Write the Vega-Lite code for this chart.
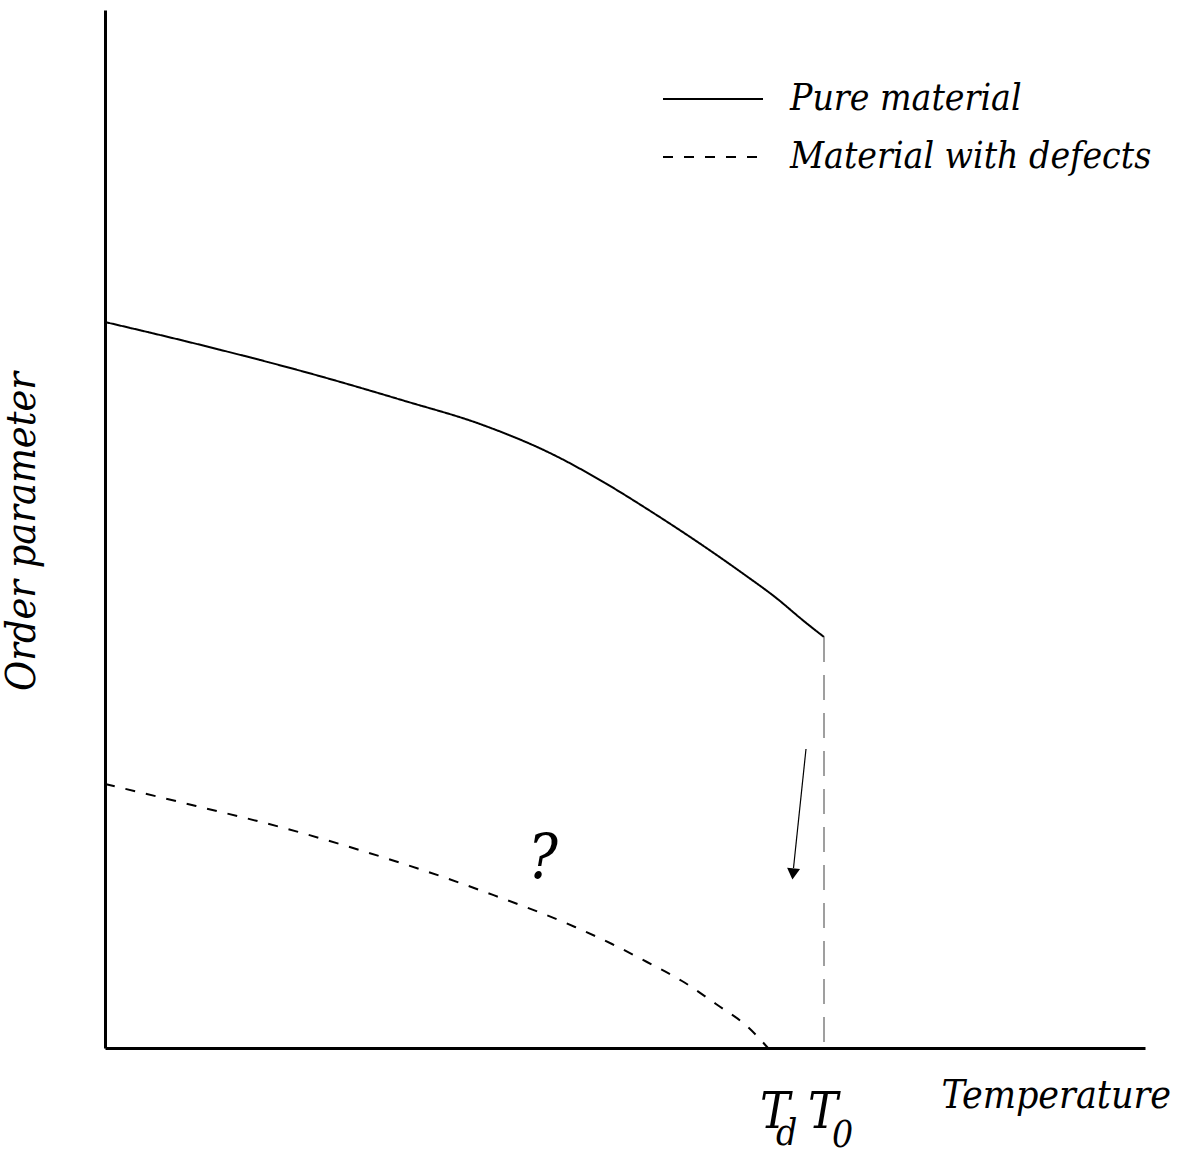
{
  "$schema": "https://vega.github.io/schema/vega-lite/v6.json",
  "width": 1040,
  "height": 1038,
  "autosize": {"type": "none"},
  "padding": {"left": 105, "top": 10, "right": 36, "bottom": 105},
  "background": "white",
  "config": {
    "view": {"stroke": null},
    "font": "DejaVu Serif Condensed"
  },
  "datasets": {
    "curves": [
      {"series": "Pure material", "t": 0, "op": 72.6},
      {"series": "Pure material", "t": 10, "op": 70.2},
      {"series": "Pure material", "t": 20, "op": 67.6},
      {"series": "Pure material", "t": 30, "op": 64.7},
      {"series": "Pure material", "t": 37.5, "op": 62.4},
      {"series": "Pure material", "t": 45, "op": 59.25},
      {"series": "Pure material", "t": 50, "op": 56.5},
      {"series": "Pure material", "t": 55, "op": 53.4},
      {"series": "Pure material", "t": 60, "op": 50.1},
      {"series": "Pure material", "t": 64, "op": 47.3},
      {"series": "Pure material", "t": 67, "op": 45.1},
      {"series": "Pure material", "t": 70, "op": 42.6},
      {"series": "Pure material", "t": 71.9, "op": 41.1},
      {"series": "Material with defects", "t": 0, "op": 26.4},
      {"series": "Material with defects", "t": 9.1, "op": 24.2},
      {"series": "Material with defects", "t": 17.9, "op": 22.0},
      {"series": "Material with defects", "t": 26.1, "op": 19.6},
      {"series": "Material with defects", "t": 34.1, "op": 17.0},
      {"series": "Material with defects", "t": 38.0, "op": 15.6},
      {"series": "Material with defects", "t": 47.0, "op": 12.1},
      {"series": "Material with defects", "t": 50.7, "op": 10.4},
      {"series": "Material with defects", "t": 54.2, "op": 8.6},
      {"series": "Material with defects", "t": 57.7, "op": 6.7},
      {"series": "Material with defects", "t": 61.1, "op": 4.4},
      {"series": "Material with defects", "t": 64.4, "op": 2.0},
      {"series": "Material with defects", "t": 66.3, "op": 0}
    ],
    "transition": [{"t": 71.9, "op_top": 41.1, "op_bottom": 0}],
    "arrow": [{"t1": 70.1, "op1": 29.9, "t2": 68.85, "op2": 18.0}],
    "arrowhead": [{"t": 68.8, "op": 17.4}],
    "question": [{"label": "?", "t": 43.8, "op": 17.0}],
    "tmain": [{"label": "T", "t": 65.5, "op": -8.0}, {"label": "T", "t": 70.3, "op": -8.0}],
    "tsub": [{"label": "d", "t": 67.1, "op": -9.7}, {"label": "0", "t": 72.7, "op": -9.9}]
  },
  "layer": [
    {
      "data": {"name": "curves"},
      "mark": {"type": "line", "color": "black", "strokeWidth": 2, "interpolate": "monotone"},
      "encoding": {
        "x": {
          "field": "t", "type": "quantitative",
          "scale": {"domain": [0, 104], "nice": false, "zero": false},
          "axis": {
            "title": "Temperature",
            "grid": false, "ticks": false, "labels": false,
            "domainColor": "black", "domainWidth": 3,
            "titleFont": "DejaVu Serif Condensed", "titleFontStyle": "italic", "titleFontWeight": "normal",
            "titleFontSize": 39, "titleColor": "black",
            "titleAlign": "left", "titleBaseline": "alphabetic",
            "titleX": 836, "titleY": 59
          }
        },
        "y": {
          "field": "op", "type": "quantitative",
          "scale": {"domain": [0, 103.8], "nice": false, "zero": false},
          "axis": {
            "title": "Order parameter",
            "grid": false, "ticks": false, "labels": false,
            "domainColor": "black", "domainWidth": 3,
            "titleFont": "DejaVu Serif Condensed", "titleFontStyle": "italic", "titleFontWeight": "normal",
            "titleFontSize": 41, "titleColor": "black",
            "titleAngle": -90, "titleAlign": "center", "titleBaseline": "alphabetic",
            "titleX": -71, "titleY": 521
          }
        },
        "strokeDash": {
          "field": "series", "type": "nominal",
          "scale": {"domain": ["Pure material", "Material with defects"], "range": [[1, 0], [10, 11]]},
          "legend": {
            "title": null,
            "orient": "none",
            "legendX": 587,
            "legendY": 68,
            "padding": 0,
            "symbolType": "M-2.5,0H2.5",
            "symbolSize": 1600,
            "symbolStrokeWidth": 2,
            "symbolStrokeColor": "black",
            "rowPadding": 19,
            "labelOffset": 56,
            "labelFont": "DejaVu Serif Condensed",
            "labelFontStyle": "italic",
            "labelFontSize": 37,
            "labelColor": "black",
            "labelLimit": 0,
            "encode": {
              "symbols": {
                "update": {
                  "strokeDash": [
                    {"test": "datum.value === 'Material with defects'", "value": [12, 17]},
                    {"value": [1, 0]}
                  ]
                }
              }
            }
          }
        }
      }
    },
    {
      "data": {"name": "transition"},
      "mark": {"type": "rule", "color": "#808080", "strokeWidth": 1.5, "strokeDash": [25, 13]},
      "encoding": {
        "x": {"field": "t", "type": "quantitative"},
        "y": {"field": "op_top", "type": "quantitative"},
        "y2": {"field": "op_bottom"}
      }
    },
    {
      "data": {"name": "arrow"},
      "mark": {"type": "rule", "color": "black", "strokeWidth": 1.2},
      "encoding": {
        "x": {"field": "t1", "type": "quantitative"},
        "y": {"field": "op1", "type": "quantitative"},
        "x2": {"field": "t2"},
        "y2": {"field": "op2"}
      }
    },
    {
      "data": {"name": "arrowhead"},
      "mark": {"type": "point", "shape": "triangle-down", "filled": true, "color": "black", "size": 170, "angle": 6, "opacity": 1},
      "encoding": {
        "x": {"field": "t", "type": "quantitative"},
        "y": {"field": "op", "type": "quantitative"}
      }
    },
    {
      "data": {"name": "question"},
      "mark": {"type": "text", "font": "DejaVu Serif Condensed", "fontStyle": "italic", "fontSize": 62, "color": "black", "align": "center", "baseline": "alphabetic"},
      "encoding": {
        "x": {"field": "t", "type": "quantitative"},
        "y": {"field": "op", "type": "quantitative"},
        "text": {"field": "label"}
      }
    },
    {
      "data": {"name": "tmain"},
      "mark": {"type": "text", "font": "DejaVu Serif Condensed", "fontStyle": "italic", "fontSize": 50, "color": "black", "align": "left", "baseline": "alphabetic"},
      "encoding": {
        "x": {"field": "t", "type": "quantitative"},
        "y": {"field": "op", "type": "quantitative"},
        "text": {"field": "label"}
      }
    },
    {
      "data": {"name": "tsub"},
      "mark": {"type": "text", "font": "DejaVu Serif Condensed", "fontStyle": "italic", "fontSize": 37, "color": "black", "align": "left", "baseline": "alphabetic"},
      "encoding": {
        "x": {"field": "t", "type": "quantitative"},
        "y": {"field": "op", "type": "quantitative"},
        "text": {"field": "label"}
      }
    }
  ]
}
